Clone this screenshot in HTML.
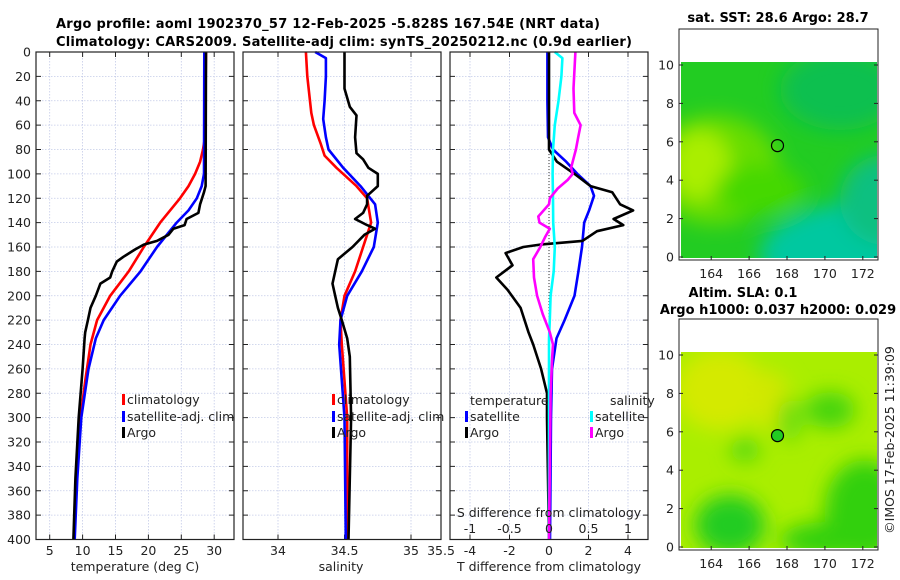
<!DOCTYPE html>
<html><head><meta charset="utf-8">
<style>
html,body{margin:0;padding:0;background:#fff;}
svg{display:block;font-family:"DejaVu Sans","Liberation Sans",sans-serif;}
.t{font-size:12.5px;fill:#222;}
.b{font-weight:bold;font-size:13px;fill:#000;}
</style></head>
<body>
<svg id="fig" width="900" height="580" viewBox="0 0 900 580" xmlns="http://www.w3.org/2000/svg">
<defs>
<filter id="blur1" x="-20%" y="-20%" width="140%" height="140%"><feGaussianBlur stdDeviation="10"/></filter>
<clipPath id="clipMap1"><rect x="681" y="62" width="196" height="196"/></clipPath>
<clipPath id="clipMap2"><rect x="681" y="352" width="196" height="196"/></clipPath>
</defs>
<text class="b" x="56" y="28" textLength="544">Argo profile: aoml 1902370_57 12-Feb-2025 -5.828S 167.54E (NRT data)</text>
<text class="b" x="56" y="46" textLength="576">Climatology: CARS2009. Satellite-adj clim: synTS_20250212.nc (0.9d earlier)</text>

<g>
<text class="b" x="778" y="22" text-anchor="middle">sat. SST: 28.6 Argo: 28.7</text>
<rect x="681" y="62" width="196" height="196" fill="#22cc22"/>
<g clip-path="url(#clipMap1)" filter="url(#blur1)">
<ellipse cx="715" cy="170" rx="65" ry="55" fill="#66dd00"/>
<ellipse cx="700" cy="165" rx="30" ry="35" fill="#aaee00"/>
<ellipse cx="760" cy="190" rx="45" ry="25" fill="#44d800"/>
<ellipse cx="880" cy="255" rx="120" ry="55" fill="#00c8a0"/>
<ellipse cx="885" cy="200" rx="45" ry="45" fill="#10c080"/>
<ellipse cx="840" cy="90" rx="60" ry="40" fill="#10c050"/>
</g>
<circle cx="777.5" cy="145.6" r="6" fill="none" stroke="#000" stroke-width="1.2"/>
<rect x="679" y="29" width="199" height="231" fill="none" stroke="#222" stroke-width="1"/>
</g>

<g>
<text class="b" x="743" y="297" text-anchor="middle">Altim. SLA: 0.1</text>
<text class="b" x="778" y="314" text-anchor="middle">Argo h1000: 0.037 h2000: 0.029</text>
<rect x="681" y="352" width="196" height="196" fill="#aaee00"/>
<g clip-path="url(#clipMap2)" filter="url(#blur1)">
<ellipse cx="720" cy="390" rx="45" ry="40" fill="#d4ea00"/>
<ellipse cx="770" cy="400" rx="20" ry="30" fill="#d0e800"/>
<ellipse cx="730" cy="525" rx="35" ry="30" fill="#22cc22"/>
<ellipse cx="865" cy="510" rx="40" ry="50" fill="#33d011"/>
<ellipse cx="830" cy="540" rx="50" ry="18" fill="#33d011"/>
<ellipse cx="830" cy="410" rx="25" ry="18" fill="#44d411"/>
<ellipse cx="745" cy="450" rx="15" ry="12" fill="#55d811"/>
<ellipse cx="790" cy="420" rx="12" ry="22" fill="#66dd11"/>
</g>
<circle cx="777.5" cy="435.6" r="6" fill="#22cc22" stroke="#000" stroke-width="1.2"/>
<rect x="679" y="319" width="199" height="231" fill="none" stroke="#222" stroke-width="1"/>
<text class="t" transform="translate(894,440) rotate(-90)" text-anchor="middle">©IMOS 17-Feb-2025 11:39:09</text>
</g>
<g id="dyn"></g>
</svg>
<script>
const depthTicks = [0,20,40,60,80,100,120,140,160,180,200,220,240,260,280,300,320,340,360,380,400];
const tempTicks = [5,10,15,20,25,30];
const salTicks = [34,34.5,35];
const tdiffTicks = [-4,-2,0,2,4];
const sdiffTickLabels = ['-1','-0.5','0','0.5','1'];
const mapXTicks = [164,166,168,170,172];
const mapYTicks = [0,2,4,6,8,10];

const climTDepth = [0,70,80,90,100,110,120,140,160,180,200,220,240,270,300,350,400];
const climT      = [28.75,28.6,28.3,27.85,27.1,26.1,24.8,21.8,19.3,17.0,14.2,12.2,11.2,10.4,9.7,9.1,8.7];
const satTDepth  = [0,100,110,120,130,140,160,180,200,220,235,260,300,350,400];
const satT       = [28.5,28.45,28.1,27.35,26.1,24.3,21.3,18.8,15.7,13.2,12.0,10.9,9.8,9.2,8.8];
const argoTDepth = [0,110,115,125,132,137,142,145,150,155,158,162,168,172,180,185,190,200,210,220,230,235,260,300,350,400];
const argoT      = [28.76,28.7,28.45,27.85,27.6,25.8,25.5,23.8,23.05,21.3,19.3,18.0,16.2,15.2,14.5,14.2,12.7,12.0,11.2,10.8,10.4,10.3,10.0,9.4,8.9,8.6];

const climSDepth = [0,20,50,60,75,85,95,110,120,140,150,160,180,200,220,240,300,400];
const climS      = [34.21,34.22,34.25,34.27,34.32,34.35,34.44,34.59,34.67,34.70,34.67,34.64,34.58,34.50,34.47,34.48,34.52,34.52];
const satSDepth  = [0,5,20,40,55,70,80,95,110,125,140,160,180,200,220,240,300,400];
const satS       = [34.28,34.36,34.36,34.35,34.34,34.36,34.38,34.49,34.62,34.73,34.75,34.72,34.63,34.52,34.47,34.46,34.50,34.51];
const argoSDepth = [0,30,45,52,70,83,88,95,100,110,118,125,132,137,142,145,150,160,170,180,190,200,210,220,235,250,300,400];
const argoS      = [34.50,34.50,34.54,34.59,34.58,34.59,34.64,34.68,34.75,34.75,34.67,34.67,34.64,34.58,34.67,34.73,34.65,34.56,34.45,34.43,34.41,34.43,34.45,34.48,34.52,34.54,34.55,34.53];

const satTdDepth = [0,40,70,80,90,100,110,118,130,140,160,180,200,220,235,260,300,400];
const satTd      = [-0.08,-0.08,-0.05,0.2,0.87,1.44,2.1,2.28,2.03,1.78,1.67,1.49,1.29,0.79,0.38,0.15,0.1,0.05];
const argoTdDepth = [0,80,90,100,110,115,125,130,137,142,147,155,158,160,165,175,185,195,210,230,240,260,280,300,400];
const argoTd      = [0,0,0.4,1.29,2.1,3.2,3.6,4.26,3.27,3.76,2.43,1.69,-0.45,-1.3,-2.2,-1.85,-2.67,-2.1,-1.44,-1.04,-0.8,-0.4,-0.1,-0.1,0];
const satSdDepth = [0,5,20,40,60,80,100,120,140,160,180,200,220,235,400];
const satSd      = [0.074,0.17,0.157,0.12,0.074,0.05,0.045,0.05,0.053,0.074,0.06,0.02,0.01,0,0];
const argoSdDepth = [0,30,50,60,70,80,85,95,100,105,112,120,125,135,140,145,152,160,170,185,200,215,230,240,250,280,400];
const argoSd      = [0.334,0.31,0.32,0.40,0.37,0.34,0.32,0.28,0.30,0.235,0.11,0.01,0.0,-0.136,-0.12,0.01,-0.05,-0.11,-0.2,-0.19,-0.15,-0.08,0.01,0.05,0.04,0.02,0];

const TOP = 52, BOT = 539.5;
const yD = d => TOP + d * (BOT - TOP) / 400;
const P1 = {x0:36, x1:234};
const P2 = {x0:243, x1:441};
const P3 = {x0:450, x1:648};
const xT  = t => 49.7 + (t - 5) * 6.58;
const xS  = s => 278 + (s - 34) * 133;
const xTd = t => 549 + t * 19.75;
const xSd = s => 549 + s * 79;

const NS = 'http://www.w3.org/2000/svg';
const dyn = document.getElementById('dyn');
function mk(tag, attrs, parent) {
  const e = document.createElementNS(NS, tag);
  for (const k in attrs) e.setAttribute(k, attrs[k]);
  (parent || dyn).appendChild(e);
  return e;
}
function txt(x, y, s, anchor, cls) {
  const e = mk('text', {x:x, y:y, 'text-anchor':anchor || 'middle', class:cls || 't'});
  e.textContent = s;
  return e;
}

function panel(P, xticks, xfn, pname) {
  const g = mk('g', {});
  
  
  depthTicks.forEach(d => {
    if (d > 0 && d < 400) mk('line', {x1:P.x0, x2:P.x1, y1:yD(d), y2:yD(d), stroke:'#c4cbe8', 'stroke-width':0.8, 'stroke-dasharray':'1.5 1.5'}, g);
    mk('line', {x1:P.x0, x2:P.x0+5, y1:yD(d), y2:yD(d), stroke:'#222', 'stroke-width':1}, g);
    mk('line', {x1:P.x1-5, x2:P.x1, y1:yD(d), y2:yD(d), stroke:'#222', 'stroke-width':1}, g);
  });
  xticks.forEach(v => {
    const x = xfn(v);
    mk('line', {x1:x, x2:x, y1:TOP, y2:BOT, stroke:'#c4cbe8', 'stroke-width':0.8, 'stroke-dasharray':'1.5 1.5'}, g);
    mk('line', {x1:x, x2:x, y1:TOP, y2:TOP+5, stroke:'#222', 'stroke-width':1}, g);
    mk('line', {x1:x, x2:x, y1:BOT-5, y2:BOT, stroke:'#222', 'stroke-width':1}, g);
  });
  return g;
}
function box(P, name) {
  const r = mk('rect', {x:P.x0, y:TOP, width:P.x1-P.x0, height:BOT-TOP, fill:'none', stroke:'#222', 'stroke-width':1.2});
  
  
}
function line(xs, ds, xfn, color, name, w) {
  const pts = xs.map((v, i) => xfn(v).toFixed(1) + ',' + yD(ds[i]).toFixed(1)).join(' ');
  const e = mk('polyline', {points:pts, fill:'none', stroke:color, 'stroke-width':w || 2.6, 'stroke-linejoin':'round'});
  
  
}
function legend(x, y, color, label, name) {
  const m = mk('rect', {x:x, y:y-8, width:3, height:11, fill:color});
  
  
  const t = txt(x+5, y+2, label, 'start');
  
  
}

depthTicks.forEach(d => {
  const t = txt(31, yD(d)+4.5, String(d), 'end');
  
  
});

panel(P1, tempTicks, xT, 'temperature-panel');
line(climT, climTDepth, xT, '#ff0000', 'climatology-temperature-line');
line(satT, satTDepth, xT, '#0000ff', 'satellite-temperature-line');
line(argoT, argoTDepth, xT, '#000000', 'argo-temperature-line');
box(P1, 'temperature-axes-frame');
tempTicks.forEach(v => {
  const t = txt(xT(v), 555, String(v));
  
  
});
const xl1 = txt(135, 571, 'temperature (deg C)');


legend(122, 402, '#ff0000', 'climatology', 'legend-climatology');
legend(122, 419, '#0000ff', 'satellite-adj. clim', 'legend-satellite-adj');
legend(122, 435, '#000000', 'Argo', 'legend-argo');

panel(P2, salTicks, xS, 'salinity-panel');
line(climS, climSDepth, xS, '#ff0000', 'climatology-salinity-line');
line(satS, satSDepth, xS, '#0000ff', 'satellite-salinity-line');
line(argoS, argoSDepth, xS, '#000000', 'argo-salinity-line');
box(P2, 'salinity-axes-frame');
salTicks.forEach(v => {
  const t = txt(xS(v), 555, String(v));
  
  
});
const s355 = txt(441, 555, '35.5');


const xl2 = txt(341, 571, 'salinity');


legend(332, 402, '#ff0000', 'climatology', 'legend-climatology-s');
legend(332, 419, '#0000ff', 'satellite-adj. clim', 'legend-satellite-adj-s');
legend(332, 435, '#000000', 'Argo', 'legend-argo-s');

panel(P3, tdiffTicks, xTd, 'difference-panel');
const zl = mk('line', {x1:xTd(0), x2:xTd(0), y1:TOP, y2:BOT, stroke:'#333', 'stroke-width':1, 'stroke-dasharray':'1 2'});


line(satTd, satTdDepth, xTd, '#0000ff', 'satellite-temperature-difference-line');
line(argoTd, argoTdDepth, xTd, '#000000', 'argo-temperature-difference-line');
line(satSd, satSdDepth, xSd, '#00ffff', 'satellite-salinity-difference-line');
line(argoSd, argoSdDepth, xSd, '#ff00ff', 'argo-salinity-difference-line');
box(P3, 'difference-axes-frame');
tdiffTicks.forEach(v => {
  const t = txt(xTd(v), 555, String(v));
  
  
});
sdiffTickLabels.forEach((s, i) => {
  const t = txt(xTd(tdiffTicks[i]), 533, s);
  
  
});
const sdt = txt(549, 517, 'S difference from climatology');


const tdt = txt(549, 571, 'T difference from climatology');


const lt = txt(470, 405, 'temperature', 'start');


const ls = txt(610, 405, 'salinity', 'start');


legend(465, 419, '#0000ff', 'satellite', 'legend-temperature-satellite');
legend(465, 435, '#000000', 'Argo', 'legend-temperature-argo');
legend(590, 419, '#00ffff', 'satellite', 'legend-salinity-satellite');
legend(590, 435, '#ff00ff', 'Argo', 'legend-salinity-argo');

const mxf = lon => 679 + (lon - 162.3) * 18.95;
[[257, 'sst'], [547, 'sla']].forEach(([y0, nm]) => {
  mapYTicks.forEach(v => {
    const y = y0 - v * 19.2;
    mk('line', {x1:679, x2:683, y1:y, y2:y, stroke:'#222'});
    mk('line', {x1:874, x2:878, y1:y, y2:y, stroke:'#222'});
    const t = txt(674, y + 4.5, String(v), 'end');
    
    
  });
  mapXTicks.forEach(v => {
    const x = mxf(v);
    mk('line', {x1:x, x2:x, y1:y0 - 1, y2:y0 + 3, stroke:'#222'});
    const t = txt(x, y0 + 21, String(v));
    
    
  });
});
</script>
</body></html>
